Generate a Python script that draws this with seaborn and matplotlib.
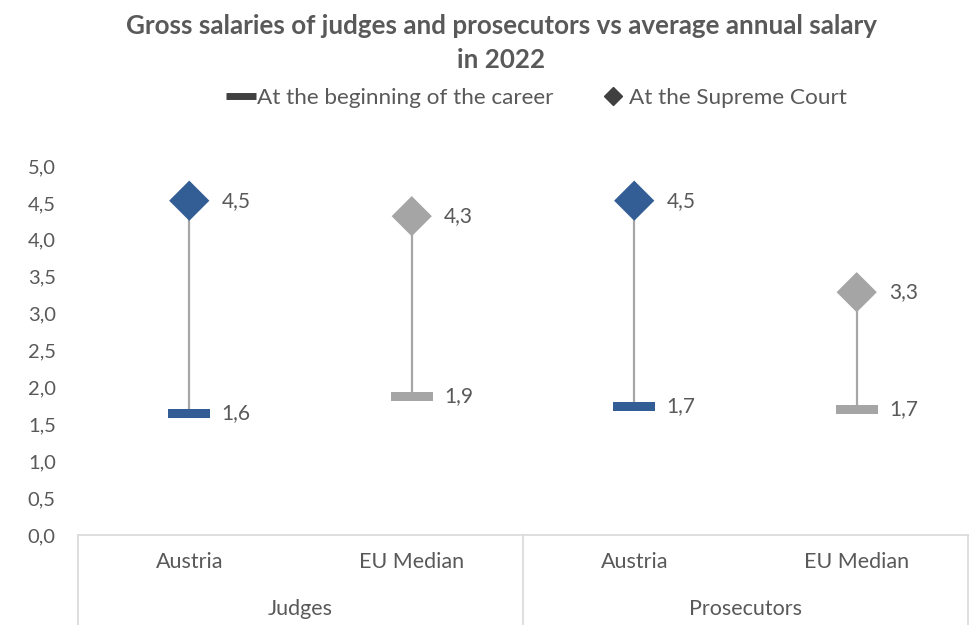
import pandas as pd
import seaborn as sns
import numpy as np
import matplotlib.pyplot as plt
from matplotlib.lines import Line2D
from matplotlib.ticker import FuncFormatter


# Salaries as a multiple of the average annual salary
def getSalaryData():
    records = [
        {"group": "Judges", "country": "Austria", "start": 1.65, "supreme": 4.53},
        {"group": "Judges", "country": "EU Median", "start": 1.88, "supreme": 4.32},
        {"group": "Prosecutors", "country": "Austria", "start": 1.74, "supreme": 4.53},
        {"group": "Prosecutors", "country": "EU Median", "start": 1.70, "supreme": 3.29},
    ]
    df = pd.DataFrame.from_records(records)
    df["pos"] = np.arange(len(df))
    return df

def comma(value):
    return f"{value:.1f}".replace(".", ",")

def getSalaryChart(df):
    palette = {"Austria": "#335E95", "EU Median": "#A5A5A5"}
    text_color = "#595959"
    line_color = "#D9D9D9"
    # flat bar marker for the starting salary
    bar = [(-1, -0.21), (1, -0.21), (1, 0.21), (-1, 0.21)]

    fig = plt.figure(figsize=(9.79, 6.25), dpi=100)
    ax = fig.add_axes([0.0797, 0.144, 0.909, 0.5904])

    # grey stem between the two salaries
    ax.vlines(df["pos"], df["start"], df["supreme"], color="#A6A6A6", lw=1.6, zorder=1)

    sns.scatterplot(data=df, x="pos", y="start", hue="country", palette=palette,
                    marker=bar, s=900, linewidth=0, legend=False, ax=ax, zorder=3)
    sns.scatterplot(data=df, x="pos", y="supreme", hue="country", palette=palette,
                    marker="D", s=420, linewidth=0, legend=False, ax=ax, zorder=3)

    for _, row in df.iterrows():
        for col in ["start", "supreme"]:
            ax.text(row["pos"] + 0.145, row[col], comma(row[col]), va="center", ha="left",
                    fontsize=15, color=text_color)

    ax.set_xlim(-0.5, 3.5)
    ax.set_ylim(0, 5)
    ax.set_yticks(np.arange(0, 5.01, 0.5))
    ax.yaxis.set_major_formatter(FuncFormatter(lambda v, p: comma(v)))
    ax.set_xticks(df["pos"])
    ax.set_xticklabels(df["country"])
    ax.tick_params(axis="y", length=0, pad=16, labelsize=14.5, labelcolor=text_color)
    ax.tick_params(axis="x", length=0, pad=12, labelsize=15.5, labelcolor=text_color)
    ax.set_xlabel("")
    ax.set_ylabel("")
    for side in ["left", "right", "top"]:
        ax.spines[side].set_visible(False)
    ax.spines["bottom"].set_color(line_color)
    ax.spines["bottom"].set_linewidth(1.2)

    # group labels and separators of the category axis
    trans = ax.get_xaxis_transform()
    for x in [-0.5, 1.5, 3.5]:
        ax.plot([x, x], [0, -0.3], color=line_color, lw=1.2, transform=trans, clip_on=False)
    for name, grp in df.groupby("group"):
        ax.text(grp["pos"].mean(), -0.2, name, transform=trans, ha="center", va="center",
                fontsize=15.5, color=text_color)

    fig.text(0.512, 1 - 26 / 625, "Gross salaries of judges and prosecutors vs average annual salary",
             ha="center", va="center", fontsize=18.7, fontweight="bold", color=text_color)
    fig.text(0.512, 1 - 60 / 625, "in 2022", ha="center", va="center",
             fontsize=18.7, fontweight="bold", color=text_color)

    handles = [
        Line2D([], [], color="#404040", lw=5, solid_capstyle="butt"),
        Line2D([], [], color="#404040", marker="D", ls="none", markersize=9),
    ]
    fig.legend(handles, ["At the beginning of the career", "At the Supreme Court"],
               loc="center", bbox_to_anchor=(0.548, 1 - 98 / 625), ncol=2, frameon=False,
               fontsize=16.2, labelcolor=text_color, handlelength=1.3, handletextpad=0.05,
               columnspacing=2.0)
    return fig


plt.rcParams["font.family"] = ["Lato", "DejaVu Sans"]
salary_df = getSalaryData()
fig = getSalaryChart(salary_df)
fig.savefig("out.png", dpi=100)
